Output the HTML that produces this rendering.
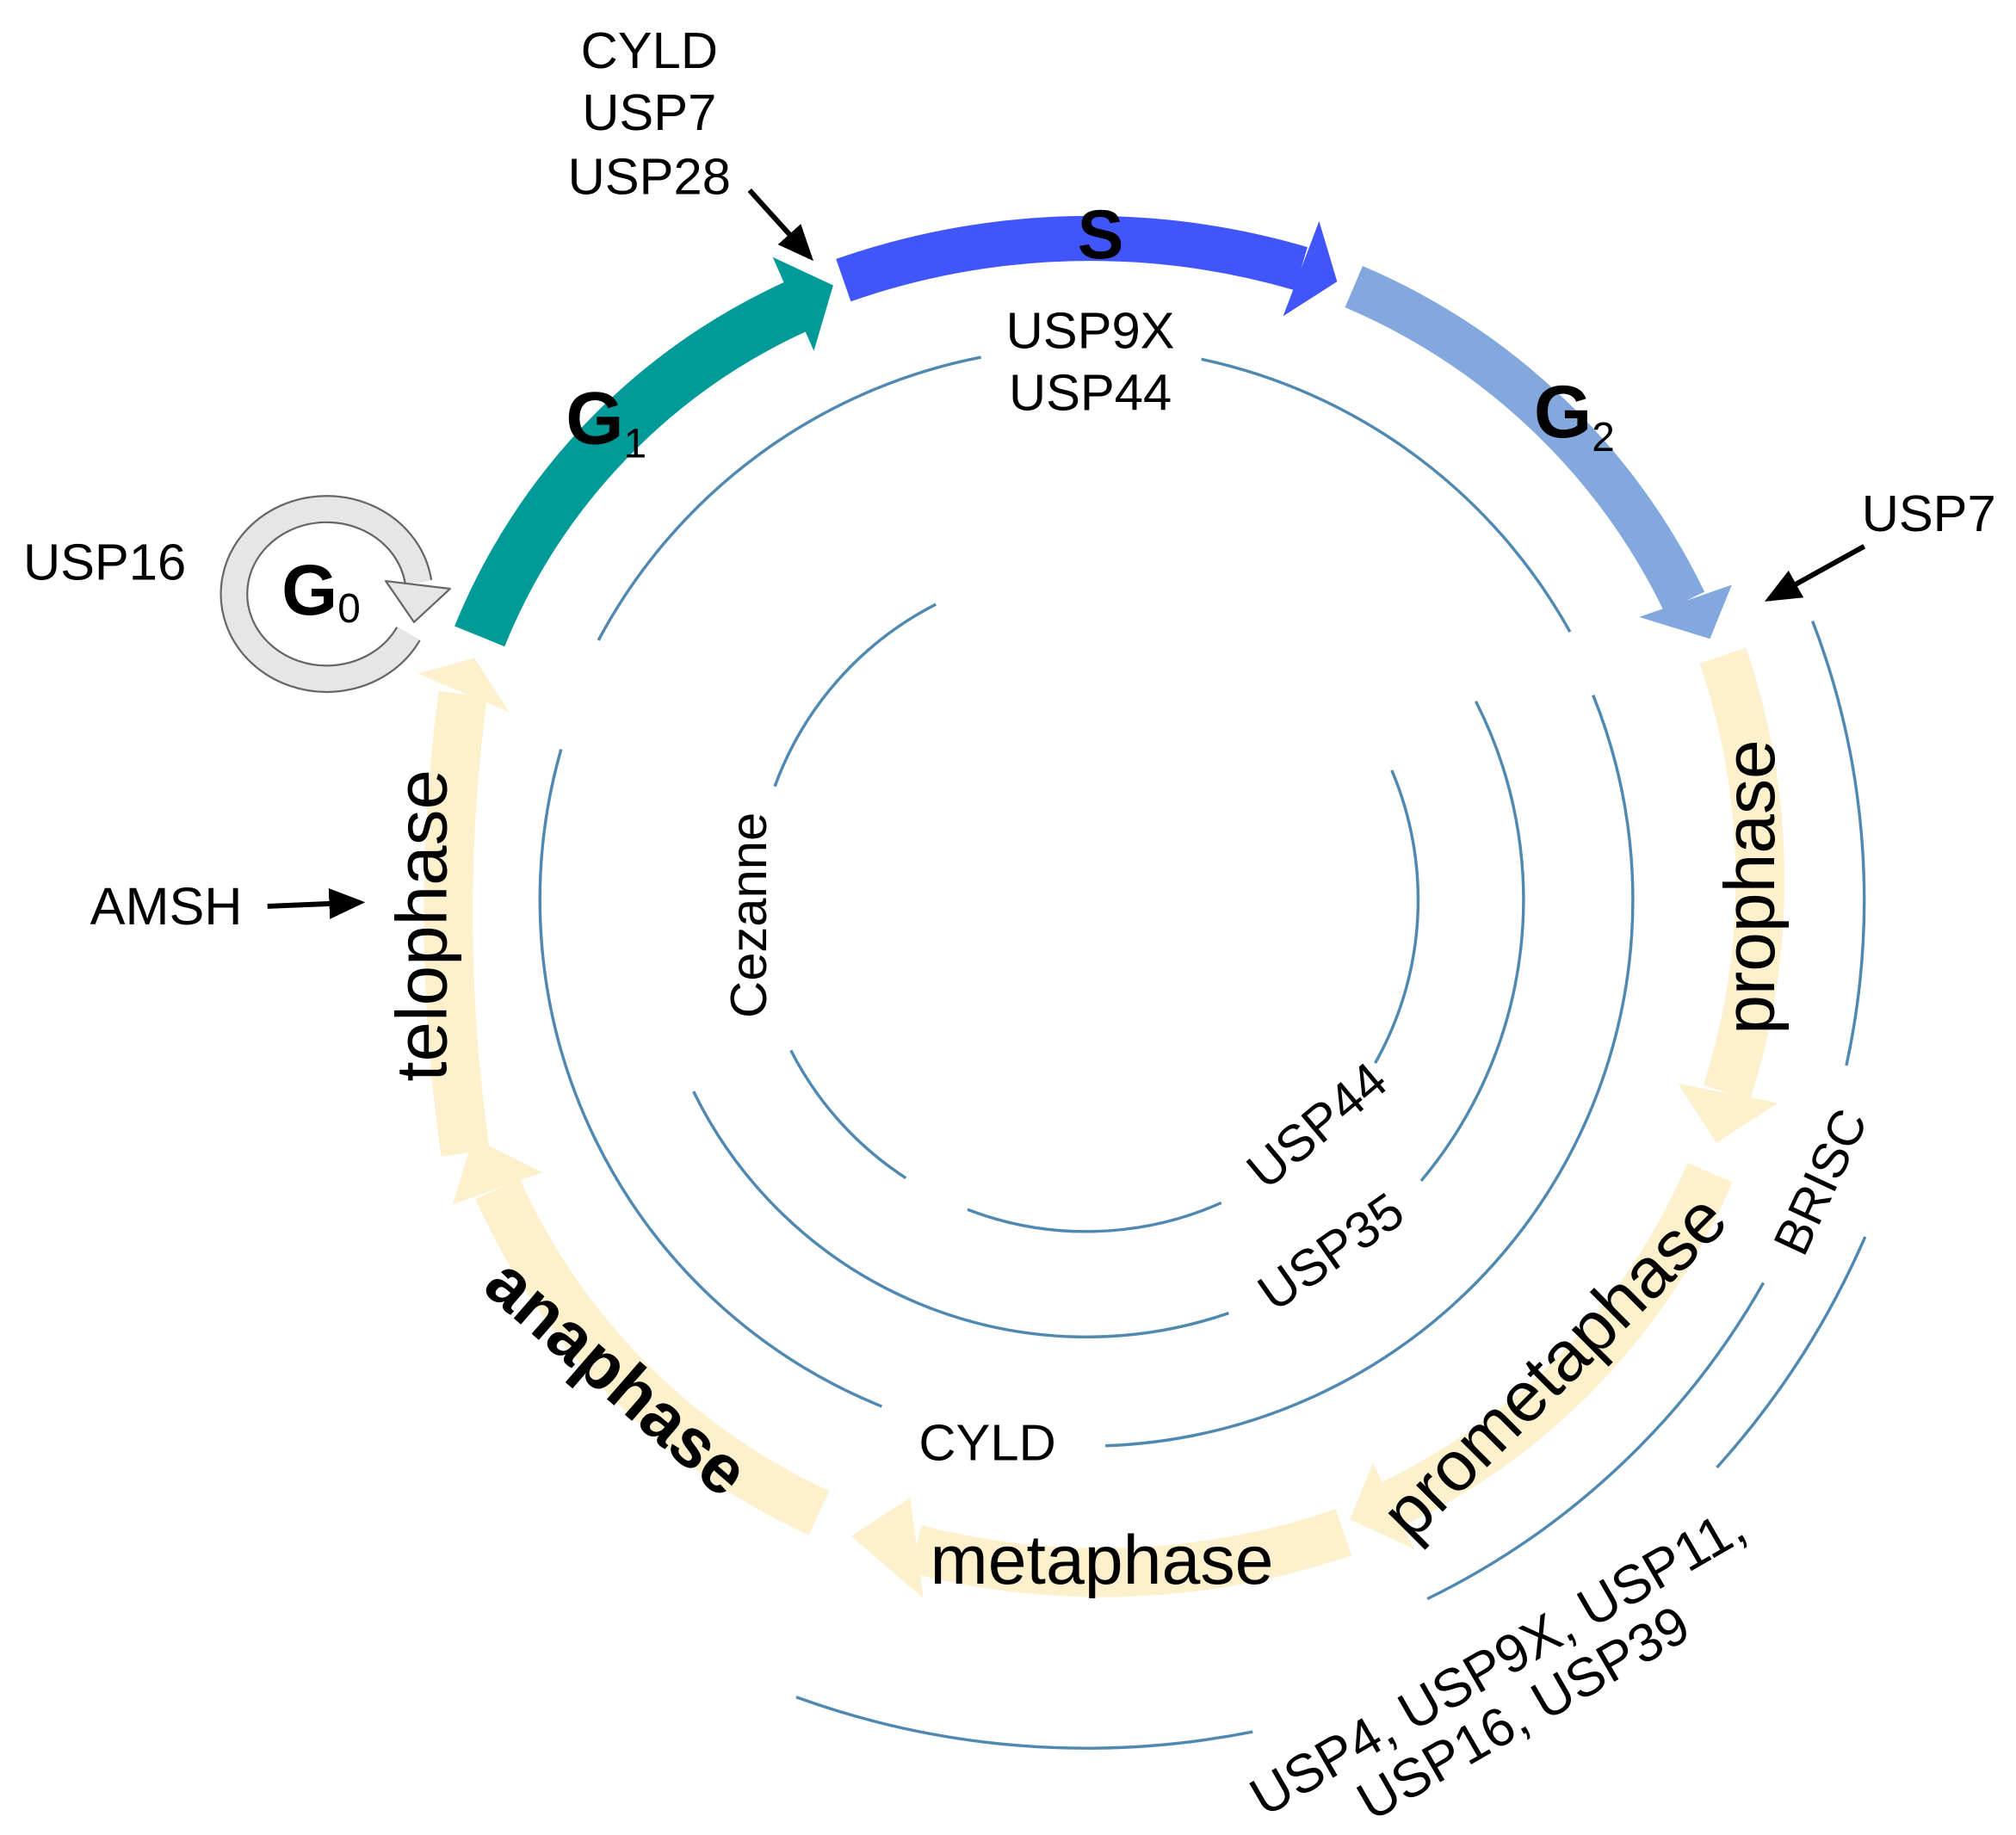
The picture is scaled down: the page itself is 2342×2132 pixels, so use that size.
<!DOCTYPE html>
<html><head><meta charset="utf-8"><style>
html,body{margin:0;padding:0;background:#fff;}
svg{display:block;}
text{font-family:"Liberation Sans",Arial,sans-serif;fill:#000;}
</style></head><body>
<svg width="2342" height="2132" viewBox="0 0 1568 1427.5" xmlns="http://www.w3.org/2000/svg">
<defs>
<marker id="ah" markerWidth="8" markerHeight="8" refX="6" refY="4" orient="auto" markerUnits="strokeWidth">
<path d="M0,1 L7,4 L0,7 z" fill="#000"/></marker>
</defs>
<rect width="1568" height="1427.5" fill="#fff"/>

<!-- thin rings -->
<g fill="none" stroke="#4F88B0" stroke-width="2.3">
<path d="M465.4,498.1 A430,430 0 0 1 763,277.9"/>
<path d="M934.4,279.4 A430,430 0 0 1 1221.1,491.5"/>
<path d="M1239.1,540.8 A425,425 0 0 1 859.8,1124.7"/>
<path d="M685.8,1094.1 A425,425 0 0 1 436.4,582.9"/>
<path d="M1147.9,545.6 A340,340 0 0 1 1105.4,918.6"/>
<path d="M955.7,1021.5 A340,340 0 0 1 539.4,849.1"/>
<path d="M602.6,611.8 A258,258 0 0 1 727.9,470.1"/>
<path d="M704.5,916.4 A258,258 0 0 1 615.1,817.1"/>
<path d="M949.9,935.7 A258,258 0 0 1 752.5,940.9"/>
<path d="M1082.5,599.2 A258,258 0 0 1 1069.6,827"/>
<path d="M1409.8,483.2 A605,605 0 0 1 1436.1,828.9"/>
<path d="M1371.6,997.9 A605,605 0 0 1 1110.2,1243.8"/>
<path d="M1450.7,962.1 A660,660 0 0 1 1335.4,1141.6"/>
<path d="M974.3,1347.2 A660,660 0 0 1 619.3,1320.2"/>
</g>

<!-- cycle arrows -->
<g fill="none" stroke-linecap="butt">
<path d="M373,495 A480,480 0 0 1 620,238" stroke="#009B98" stroke-width="42"/>
<path d="M656,218 A583,583 0 0 1 1012,209" stroke="#4056FA" stroke-width="35"/>
<path d="M1053,223 A505,505 0 0 1 1310,468" stroke="#82A8DE" stroke-width="35"/>
<path d="M1340,510 A540,540 0 0 1 1343,850" stroke="#FDF0CC" stroke-width="38"/>
<path d="M1330,912 A505,505 0 0 1 1083,1170" stroke="#FDF0CC" stroke-width="38"/>
<path d="M1045,1192 A580,580 0 0 1 712,1205" stroke="#FDF0CC" stroke-width="38"/>
<path d="M637,1177 A505,505 0 0 1 387,925" stroke="#FDF0CC" stroke-width="38"/>
<path d="M362,897 A1300,1300 0 0 1 360,540" stroke="#FDF0CC" stroke-width="38"/>
</g>
<polygon points="601,200 633,273 648,222" fill="#009B98"/>
<polygon points="1026,172 998,246 1040,219" fill="#4056FA"/>
<polygon points="1275,480 1347,455 1330,497" fill="#82A8DE"/>
<polygon points="1305,843 1383,858 1335,889" fill="#FDF0CC"/>
<polygon points="1068,1138 1100,1205 1050,1182" fill="#FDF0CC"/>
<polygon points="708,1165 718,1243 662,1195" fill="#FDF0CC"/>
<polygon points="352,937 422,912 368,885" fill="#FDF0CC"/>
<polygon points="325,524 396,554 369,512" fill="#FDF0CC"/>

<!-- G0 loop -->
<path d="M317.6,493 A72,66 0 1 1 325.3,452.8" fill="none" stroke="#666" stroke-width="22"/>
<path d="M317.6,493 A72,66 0 1 1 325.3,452.8" fill="none" stroke="#E6E6E6" stroke-width="19"/>
<polygon points="300,452 350,458 322,484" fill="#E6E6E6" stroke="#666" stroke-width="1.5" stroke-linejoin="round"/>
<text x="219" y="478" font-size="56" font-weight="bold">G<tspan font-size="32" dy="6" font-weight="normal">0</tspan></text>

<!-- phase labels -->
<text x="856" y="201" font-size="54" font-weight="bold" text-anchor="middle">S</text>
<text x="440" y="345" font-size="58" font-weight="bold">G<tspan font-size="32" dy="11" font-weight="normal">1</tspan></text>
<text x="1193" y="340" font-size="58" font-weight="bold">G<tspan font-size="32" dy="11" font-weight="normal">2</tspan></text>
<text font-size="56" text-anchor="middle" transform="translate(347,720) rotate(-90)">telophase</text>
<text font-size="55" text-anchor="middle" transform="translate(1380,690) rotate(-90)">prophase</text>
<text x="857" y="1232" font-size="54" text-anchor="middle">metaphase</text>
<text font-size="55" text-anchor="middle" transform="translate(1222,1076) rotate(-45)">prometaphase</text>
<text font-size="54" font-weight="bold" text-anchor="middle" transform="translate(468,1085) rotate(41)">anaphase</text>

<!-- DUB labels -->
<g font-size="40" text-anchor="middle">
<text x="505" y="53">CYLD</text>
<text x="505" y="101">USP7</text>
<text x="505" y="151">USP28</text>
<text x="848" y="271">USP9X</text>
<text x="848" y="319">USP44</text>
<text x="768" y="1136">CYLD</text>
</g>
<text x="1448" y="413" font-size="40">USP7</text>
<text x="18" y="451" font-size="40">USP16</text>
<text x="70" y="719" font-size="41">AMSH</text>
<text font-size="40" text-anchor="middle" transform="translate(596,712) rotate(-90)">Cezanne</text>
<text font-size="40" text-anchor="middle" transform="translate(1033,886) rotate(-40)">USP44</text>
<text font-size="40" text-anchor="middle" transform="translate(1043,985) rotate(-35)">USP35</text>
<text font-size="39" text-anchor="middle" transform="translate(1428,925) rotate(-65)">BRISC</text>
<text font-size="42" text-anchor="middle" transform="translate(1172,1305) rotate(-30)">USP4, USP9X, USP11,</text>
<text font-size="42" text-anchor="middle" transform="translate(1192,1345) rotate(-30)">USP16, USP39</text>

<!-- pointer arrows -->
<g stroke="#000" stroke-width="4" fill="none">
<line x1="583" y1="148" x2="630" y2="200" marker-end="url(#ah)"/>
<line x1="1450" y1="425" x2="1376" y2="466" marker-end="url(#ah)"/>
<line x1="208" y1="705" x2="280" y2="702" marker-end="url(#ah)"/>
</g>
</svg>
</body></html>
